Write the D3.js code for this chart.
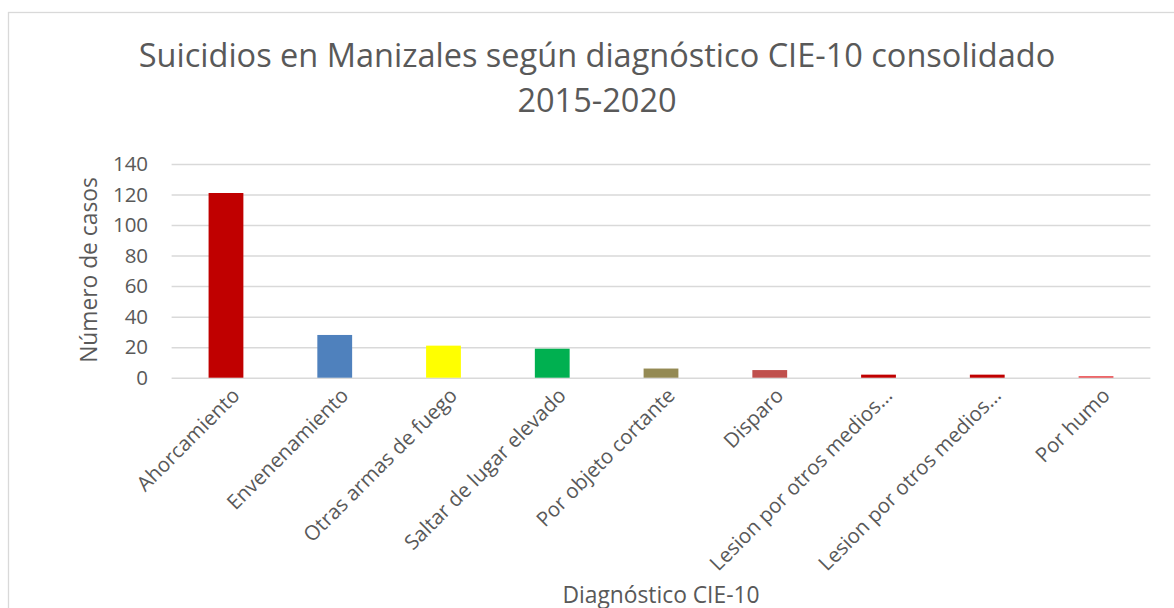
<!DOCTYPE html>
<html>
<head>
<meta charset="utf-8">
<script src="https://cdn.jsdelivr.net/npm/d3@7"></script>
<style>
  body { margin: 0; background: #fff; }
  svg { display: block; font-family: "Open Sans", sans-serif; }
</style>
</head>
<body>
<div id="chart"></div>
<script>
// data
const categories = [
    "Ahorcamiento",
    "Envenenamiento",
    "Otras armas de fuego",
    "Saltar de lugar elevado",
    "Por objeto cortante",
    "Disparo",
    "Lesion por otros medios...",
    "Lesion por otros medios...",
    "Por humo"
];
const casos = [121, 28, 21, 19, 6, 5, 2, 2, 1];
const barColors = ["#c00000", "#4f81bd", "#ffff00", "#00b050", "#948a54", "#c0504d", "#c00000", "#c00000", "#e8474a"];
const yTicks = [0, 20, 40, 60, 80, 100, 120, 140];
const titleLines = ["Suicidios en Manizales según diagnóstico CIE-10 consolidado", "2015-2020"];

const W = 1174, H = 608;
const margin = { top: 164, left: 171.6, right: 23.6, bottom: 230.3 };
const width = W - margin.left - margin.right;
const height = H - margin.top - margin.bottom;
const textColor = "#595959";
const gridColor = "#d9d9d9";

const data = categories.map((c, i) => ({ id: i, name: c, value: casos[i], color: barColors[i] }));

const root = d3.select("#chart").append("svg")
    .attr("width", W)
    .attr("height", H);

// chart frame
root.append("rect")
    .attr("x", 8.5).attr("y", 12.5)
    .attr("width", 1178).attr("height", 620)
    .attr("fill", "#fff")
    .attr("stroke", gridColor)
    .attr("stroke-width", 1.3);

// title
root.append("text")
    .attr("text-anchor", "middle")
    .attr("fill", textColor)
    .style("font-size", "32.5px")
    .selectAll("tspan").data(titleLines).enter()
    .append("tspan")
    .attr("x", 597)
    .attr("y", (d, i) => 67 + i * 45)
    .text(d => d);

const svg = root.append("g").attr("transform", `translate(${margin.left},${margin.top})`);

const x = d3.scaleBand().domain(data.map(d => d.id)).range([0, width]).paddingInner(0.68).paddingOuter(0.34);
const y = d3.scaleLinear().domain([0, 140]).range([height, 0]);

// gridlines
const gridlines = d3.axisLeft(y).tickValues(yTicks).tickSize(-width).tickFormat("");
svg.append("g")
    .attr("class", "grid")
    .call(gridlines)
    .call(g => g.select(".domain").remove())
    .call(g => g.selectAll("line").attr("stroke", gridColor).attr("stroke-width", 1.5));

// y tick labels
const yAxis = d3.axisLeft(y).tickValues(yTicks).tickSize(0).tickPadding(23.5);
svg.append("g")
    .attr("class", "axis axis--y")
    .call(yAxis)
    .call(g => g.select(".domain").remove())
    .call(g => g.selectAll("text")
        .attr("fill", textColor)
        .style("font-size", "20.5px")
        .style("font-family", "'Open Sans', sans-serif"));

// bars
svg.append("g").selectAll("rect").data(data).enter()
    .append("rect")
    .attr("x", d => x(d.id))
    .attr("y", d => y(d.value))
    .attr("width", x.bandwidth())
    .attr("height", d => height - y(d.value))
    .attr("fill", d => d.color);

// x labels, rotated
const xAxis = d3.axisBottom(x).tickSize(0).tickFormat(i => categories[i]);
svg.append("g")
    .attr("class", "axis axis--x")
    .attr("transform", `translate(0,${height})`)
    .call(xAxis)
    .call(g => g.select(".domain").remove())
    .call(g => g.selectAll("text")
        .attr("fill", textColor)
        .style("font-size", "20.5px")
        .style("font-family", "'Open Sans', sans-serif")
        .attr("text-anchor", "end")
        .attr("dy", "0.35em")
        .attr("y", 0)
        .attr("transform", "translate(10,14) rotate(-45)"));

// axis titles
svg.append("text")
    .attr("text-anchor", "middle")
    .attr("fill", textColor)
    .style("font-size", "22.8px")
    .attr("x", width / 2)
    .attr("y", 603 - margin.top)
    .text("Diagnóstico CIE-10");

svg.append("text")
    .attr("text-anchor", "middle")
    .attr("fill", textColor)
    .style("font-size", "22.8px")
    .attr("transform", "rotate(-90)")
    .attr("x", -(270 - margin.top))
    .attr("y", 97 - margin.left)
    .text("Número de casos");
</script>
</body>
</html>
